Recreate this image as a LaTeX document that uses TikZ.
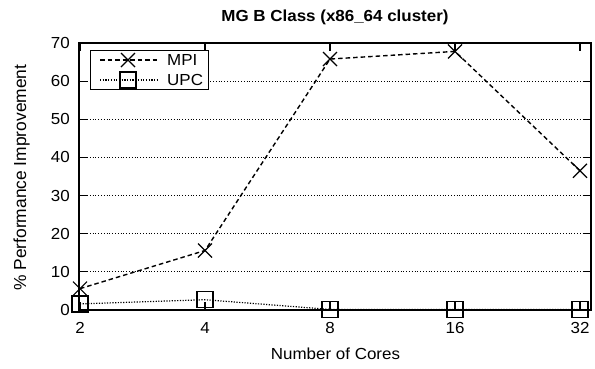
\documentclass[tikz,border=0pt]{standalone}
\usepackage{fontspec}
\setmainfont{Liberation Sans}
\begin{document}
\begin{tikzpicture}[x=1pt,y=-1pt,
  lbl/.style={font=\fontsize{16}{18}\selectfont, inner sep=0pt, xscale=1.06},
  frame/.style={line width=1.2pt},
  grid/.style={line width=0.8pt, dotted},
  mpiline/.style={line width=1.4pt, dash pattern=on 4.5pt off 3pt},
  upcline/.style={line width=1.2pt, dash pattern=on 1.2pt off 1.5pt},
  xmark/.style={line width=1.2pt},
  sqmark/.style={line width=1.2pt, fill=none},
  tick/.style={line width=1.1pt}
]
\useasboundingbox (0,0) rectangle (595,368);
% coordinates of frame
\coordinate (BL) at (79,310);
\coordinate (TR) at (591,43);
% gridlines
\foreach \v in {10,20,30,40,50,60} {
  \draw[grid] (87,{310-3.814*\v}) -- (583,{310-3.814*\v});
}
% data coordinates
\coordinate (m2) at (80,{310-3.814*5.6});
\coordinate (m4) at (205,{310-3.814*15.6});
\coordinate (m8) at (330,{310-3.814*65.8});
\coordinate (m16) at (455,{310-3.814*67.8});
\coordinate (m32) at (580,{310-3.814*36.5});
\coordinate (u2) at (80,{310-3.814*1.6});
\coordinate (u4) at (205,{310-3.814*2.7});
\coordinate (u8) at (330,{310-3.814*0.15});
\coordinate (u16) at (455,{310-3.814*0.15});
\coordinate (u32) at (580,{310-3.814*0.15});
% lines
\draw[upcline] (u2) -- (u4) -- (u8) -- (u16) -- (u32);
\draw[mpiline] (m2) -- (m4) -- (m8) -- (m16) -- (m32);
% markers
\foreach \p in {m2,m4,m8,m16,m32} {
  \draw[xmark] ([shift={(-7,-7)}]\p) -- ([shift={(7,7)}]\p);
  \draw[xmark] ([shift={(-7,7)}]\p) -- ([shift={(7,-7)}]\p);
}
\foreach \p in {u2,u4,u8,u16,u32} {
  \draw[sqmark] ([shift={(-8,-8)}]\p) rectangle ([shift={(8,8)}]\p);
}
% frame
\draw[frame] (BL) rectangle (TR);
% ticks
\foreach \v in {0,10,20,30,40,50,60,70} {
  \draw[tick] (79,{310-3.814*\v}) -- (87,{310-3.814*\v});
  \draw[tick] (591,{310-3.814*\v}) -- (583,{310-3.814*\v});
  \node[lbl, anchor=east] (yl\v) at (70,{310-3.814*\v}) {\v};
}
\foreach \x/\n in {80/2,205/4,330/8,455/16,580/32} {
  \draw[tick] (\x,310) -- (\x,302);
  \draw[tick] (\x,43) -- (\x,51);
  \node[lbl, anchor=base] (xl\n) at (\x,333) {\n};
}
% axis labels
\node[lbl, anchor=base] (xlabel) at (335.5,359.3) {Number of Cores};
\node[font=\fontsize{17.4}{19}\selectfont, inner sep=0pt, rotate=90, anchor=base] (ylabel) at (26,177.6) {\% Performance Improvement};
\node[lbl, font=\fontsize{16}{18}\selectfont\bfseries, anchor=base] (title) at (335,21) {MG B Class (x86\_64 cluster)};
% legend
\draw[line width=1pt, fill=white] (90,50) rectangle (208,89);
\coordinate (lm1) at (100,60);
\coordinate (lm2) at (157,60);
\coordinate (lu1) at (100,80);
\coordinate (lu2) at (157,80);
\draw[mpiline] (lm1) -- (lm2);
\draw[upcline] (lu1) -- (lu2);
\coordinate (lmx) at (128,60);
\coordinate (lux) at (128,80);
\draw[xmark] ([shift={(-7,-7)}]lmx) -- ([shift={(7,7)}]lmx);
\draw[xmark] ([shift={(-7,7)}]lmx) -- ([shift={(7,-7)}]lmx);
\draw[sqmark] ([shift={(-8,-8)}]lux) rectangle ([shift={(8,8)}]lux);
\node[lbl, anchor=west] (lmpi) at (167,60) {MPI};
\node[lbl, anchor=west] (lupc) at (167,80) {UPC};
\end{tikzpicture}
\end{document}
